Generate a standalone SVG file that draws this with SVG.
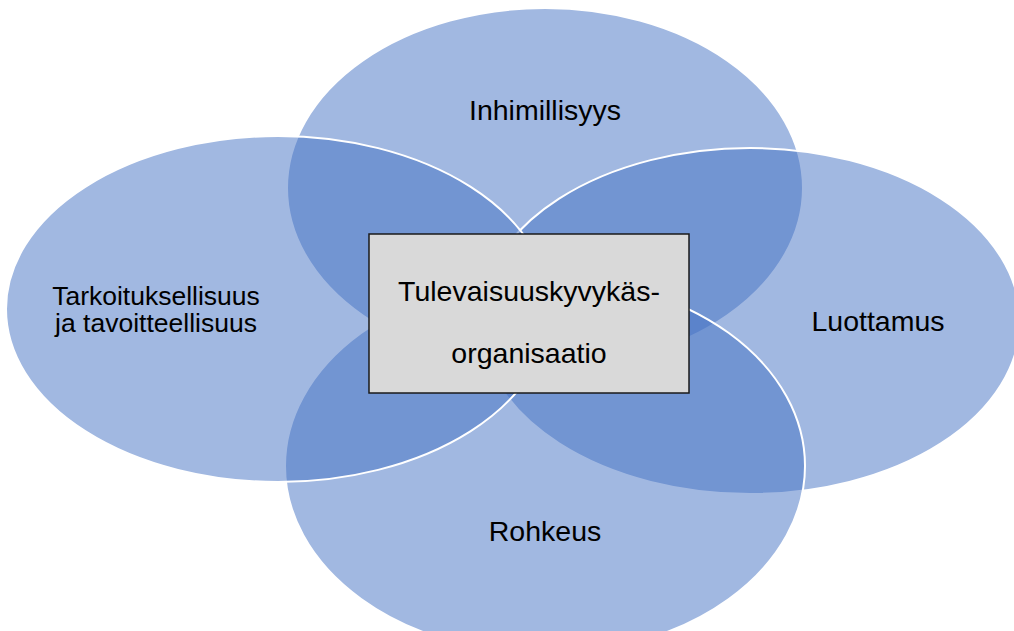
<svg xmlns="http://www.w3.org/2000/svg" width="1014" height="631" viewBox="0 0 1014 631">
<style>
.e{fill:#4472C4;fill-opacity:0.5;stroke:#FFFFFF;stroke-width:2}
.t{font-family:"Liberation Sans",Arial,sans-serif;fill:#000;text-anchor:middle}
</style>
<rect width="1014" height="631" fill="#FFFFFF"/>
<g id="top"><ellipse class="e" cx="545" cy="188" rx="258" ry="180"/></g>
<g id="right"><ellipse class="e" cx="750" cy="321" rx="270" ry="173"/></g>
<g id="bottom"><ellipse class="e" cx="545" cy="466" rx="260" ry="188"/></g>
<g id="left"><ellipse class="e" cx="278" cy="309" rx="272" ry="173"/></g>
<g id="labels">
<text class="t" x="545" y="120" font-size="28.5">Inhimillisyys</text>
<text class="t" font-size="26.5"><tspan x="156" y="305">Tarkoituksellisuus</tspan><tspan x="156" y="332">ja tavoitteellisuus</tspan></text>
<text class="t" x="878" y="331" font-size="28.5">Luottamus</text>
<text class="t" x="545" y="541" font-size="28.5">Rohkeus</text>
</g>
<g id="center">
<rect x="369" y="234" width="320" height="159" fill="#D9D9D9" stroke="#1A1A1A" stroke-width="1.5"/>
<text class="t" x="529" y="301" font-size="28.5">Tulevaisuuskyvykäs-</text>
<text class="t" x="529" y="363" font-size="28.5">organisaatio</text>
</g>
<g id="connectors"/>
</svg>
